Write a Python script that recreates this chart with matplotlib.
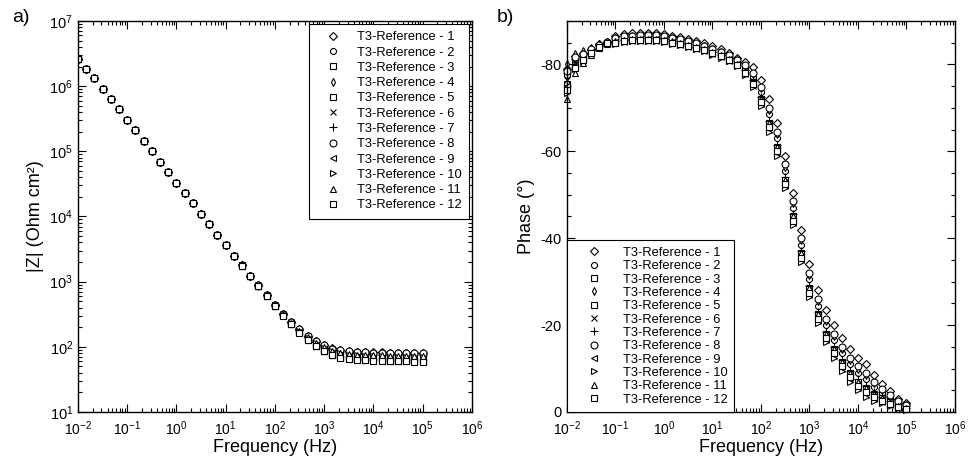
import matplotlib
matplotlib.use('Agg')
import matplotlib.pyplot as plt
from matplotlib.ticker import LogLocator, AutoMinorLocator, NullFormatter
import numpy as np

plt.rcParams['font.family'] = ['Liberation Sans', 'DejaVu Sans']
plt.rcParams['axes.unicode_minus'] = False
plt.rcParams['mathtext.default'] = 'regular'

# frequency points (Hz), 6 per decade
freq = [0.01, 0.0147, 0.0215, 0.0316, 0.0464, 0.0681,
        0.1, 0.147, 0.215, 0.316, 0.464, 0.681,
        1, 1.47, 2.15, 3.16, 4.64, 6.81,
        10, 14.7, 21.5, 31.6, 46.4, 68.1,
        100, 147, 215, 316, 464, 681,
        1000, 1470, 2150, 3160, 4640, 6810,
        1e4, 14700, 21500, 31600, 46400, 68100, 1e5]

# mean |Z| (Ohm cm2) read off panel a)
z_mod = [2.6e6, 1.85e6, 1.32e6, 9.1e5, 6.3e5, 4.4e5,
         3.0e5, 2.1e5, 1.45e5, 1.0e5, 6.9e4, 4.8e4,
         3.3e4, 2.3e4, 1.6e4, 1.1e4, 7.6e3, 5.2e3,
         3.6e3, 2.5e3, 1.78e3, 1.23e3, 870, 615,
         435, 315, 235, 178, 141, 115,
         98, 87, 81, 78, 76, 75,
         74, 74, 73, 73, 73, 72, 72]
# high frequency plateau of each sample (Ohm cm2)
z_plateau = [80, 62, 60, 78, 61, 76, 74, 79, 65, 70, 72, 59]
z_ref = 72

# mean phase (deg) read off panel b)
phase = [-76.5, -80.5, -81.8, -83.1, -84.3, -85.0,
         -85.4, -85.7, -85.9, -86.0, -86.0, -86.0,
         -85.8, -85.4, -85.0, -84.6, -84.1, -83.6,
         -82.9, -82.2, -81.4, -80.3, -78.6, -76.3,
         -72.5, -67.0, -61.5, -54.0, -45.5, -37.0,
         -29.0, -23.0, -18.5, -15.0, -12.0, -9.5,
         -7.5, -6.0, -4.6, -3.5, -2.5, -1.6, -1.0]
# scatter between samples: at 10 mHz and in the 1 kHz - 10 kHz drop
lf_shape = [1, 0.55, 0.35, 0.22, 0.12, 0.06] + [0] * 37
hf_shape = [0] * 6 + [0.25] * 16 + [0.4, 0.6, 0.8] + [1] * 13 + [0.8, 0.6, 0.45, 0.3, 0.2]
lf_off = [-2.5, -1.0, 1.0, -3.5, 2.0, 0.0, -1.5, -2.0, 1.5, 3.0, 4.5, 2.5]
hf_off = [-5.0, -1.5, 1.5, -2.5, 0.5, 2.0, 0.0, -3.0, 1.0, 2.5, 0.5, 1.5]

labels = ['T3-Reference - %d' % i for i in range(1, 13)]
markers = ['D', '8', 's', 'd', 's', 'x', '+', 'o', '<', '>', '^', 's']
sizes = [4, 5, 5, 4, 5, 5, 6, 5, 5, 5, 5, 5]

fig = plt.figure(figsize=(9.7, 4.66), dpi=100)
ax1 = fig.add_axes([0.0804, 0.1159, 0.406, 0.8391])
ax2 = fig.add_axes([0.5845, 0.1159, 0.400, 0.8391])

f = np.array(freq)
for i in range(12):
    zi = np.array(z_mod) + (z_plateau[i] - z_ref)
    ph = (np.array(phase) + lf_off[i] * np.array(lf_shape)
          + hf_off[i] * np.array(hf_shape))
    kw = dict(linestyle='none', marker=markers[i], ms=sizes[i],
              mfc='white', mec='black', mew=0.8, label=labels[i])
    ax1.plot(f, zi, **kw)
    ax2.plot(f, np.minimum(ph, 0), clip_on=False, **kw)

for ax in (ax1, ax2):
    ax.set_xscale('log')
    ax.set_xlim(1e-2, 1e6)
    ax.xaxis.set_major_locator(LogLocator(base=10, numticks=20))
    ax.xaxis.set_minor_locator(LogLocator(base=10, subs=np.arange(2, 10), numticks=20))
    ax.xaxis.set_minor_formatter(NullFormatter())
    ax.tick_params(which='both', direction='in', top=True, right=True,
                   width=0.8, colors='black')
    ax.tick_params(axis='x', labelsize=10, pad=5)
    ax.tick_params(axis='y', labelsize=10.5)
    ax.tick_params(which='major', length=6)
    ax.tick_params(which='minor', length=3)
    ax.set_xlabel('Frequency (Hz)', fontsize=13, labelpad=1)
    for s in ax.spines.values():
        s.set_linewidth(1.0)

ax1.set_yscale('log')
ax1.set_ylim(1e1, 1e7)
ax1.yaxis.set_major_locator(LogLocator(base=10, numticks=20))
ax1.yaxis.set_minor_locator(LogLocator(base=10, subs=np.arange(2, 10), numticks=20))
ax1.yaxis.set_minor_formatter(NullFormatter())
ax1.set_ylabel('|Z| (Ohm cm²)', fontsize=13)

ax2.set_ylim(0, -90)
ax2.set_yticks([0, -20, -40, -60, -80])
ax2.yaxis.set_minor_locator(AutoMinorLocator(4))
ax2.set_ylabel('Phase (°)', fontsize=13)

leg_kw = dict(fontsize=9.3, frameon=True, fancybox=False, edgecolor='black',
              handletextpad=0.6, framealpha=1)
l1 = ax1.legend(loc='upper right', borderaxespad=0.2, borderpad=0.6,
                handlelength=2.5, labelspacing=0.25, **leg_kw)
l2 = ax2.legend(loc='lower left', borderaxespad=0.0, borderpad=0.5,
                handlelength=3.2, labelspacing=0.1, **leg_kw)
for l in (l1, l2):
    l.get_frame().set_linewidth(0.8)

fig.text(0.012, 0.962, 'a)', fontsize=14, va='center')
fig.text(0.512, 0.962, 'b)', fontsize=14, va='center')

fig.savefig('out.png', dpi=100)
